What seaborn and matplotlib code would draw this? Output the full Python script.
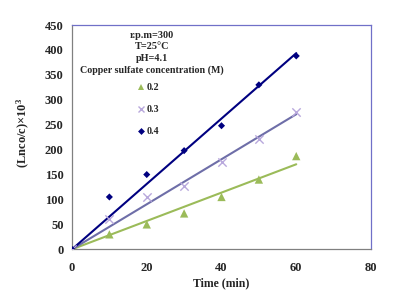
import numpy as np
import pandas as pd
import matplotlib
matplotlib.use("Agg")
import matplotlib.pyplot as plt
import seaborn as sns

# time (min) and (Ln co/c)x10^3 for each copper sulfate concentration
time_min = [0, 10, 20, 30, 40, 50, 60]
conc_02 = [0, 30, 50, 72, 105, 140, 187]
conc_03 = [0, 60, 105, 127, 175, 222, 275]
conc_04 = [0, 105, 150, 198, 248, 330, 388]
labels = ["0.2", "0.3", "0.4"]

sns.set_style("white")
plt.rcParams['font.family'] = ['Liberation Serif', 'DejaVu Serif']
plt.rcParams['font.weight'] = 'bold'
plt.rcParams['mathtext.fontset'] = 'custom'
plt.rcParams['mathtext.rm'] = 'Liberation Serif:bold'
plt.rcParams['mathtext.default'] = 'rm'

fig = plt.figure(figsize=(4, 3), dpi=100)
ax = fig.add_axes([0.18, 0.169, 0.7475, 0.7475])

series = {"0.2": conc_02, "0.3": conc_03, "0.4": conc_04}
line_col = {"0.2": "#9BBB59", "0.3": "#6E6EA8", "0.4": "#000080"}
mark_col = {"0.2": "#9BBB59", "0.3": "#B8A8DC", "0.4": "#000080"}
mark = {"0.2": "^", "0.3": "x", "0.4": "D"}
msize = {"0.2": 36, "0.3": 36, "0.4": 13}

t = np.array(time_min, dtype=float)
for lab in labels:
    y = np.array(series[lab], dtype=float)
    # linear fit forced through origin
    k = (t * y).sum() / (t * t).sum()
    fit = pd.DataFrame({"x": [0, 60], "y": [0, k * 60]})
    sns.lineplot(data=fit, x="x", y="y", color=line_col[lab], lw=1.5, ax=ax)
    df = pd.DataFrame({"x": t, "y": y})
    if mark[lab] == "x":
        sns.scatterplot(data=df, x="x", y="y", marker="x", color=mark_col[lab],
                        s=msize[lab], linewidth=1, ax=ax, zorder=3)
    else:
        sns.scatterplot(data=df, x="x", y="y", marker=mark[lab], color=mark_col[lab],
                        s=msize[lab], edgecolor="none", ax=ax, zorder=3)

ax.set_xlim(0, 80)
ax.set_ylim(0, 450)
ax.set_xticks([0, 20, 40, 60, 80])
ax.set_yticks(range(0, 451, 50))
ax.tick_params(axis="both", labelsize=9, direction="out", length=3,
               width=0.8, color="#808080", pad=3)
ax.tick_params(axis="x", pad=6)
for lbl in ax.get_xticklabels() + ax.get_yticklabels():
    lbl.set_fontweight("bold")
ax.set_xlabel("Time (min)", fontsize=8.5, fontweight="bold")
ax.set_ylabel("(Lnco/c)×10$^{3}$", fontsize=9, fontweight="bold")
ax.xaxis.set_label_coords(0.5, -0.125)
ax.yaxis.set_label_coords(-0.135, 0.52)

for side in ["left", "bottom"]:
    ax.spines[side].set_color("#808080")
    ax.spines[side].set_linewidth(0.9)
for side in ["top", "right"]:
    ax.spines[side].set_color("#7070C8")
    ax.spines[side].set_linewidth(0.9)

# conditions text
fs = 7.4
for i, txt in enumerate(["r.p.m=300", "T=25°C", "pH=4.1"]):
    fig.text(152 / 400, 1 - (35 + 11.7 * i) / 300, txt, ha="center", va="center",
             fontsize=fs, fontweight="bold")
fig.text(152 / 400, 1 - 70 / 300, "Copper sulfate concentration (M)", ha="center",
         va="center", fontsize=7.2, fontweight="bold")

# legend-like entries
for i, lab in enumerate(labels):
    yy = 1 - (87 + 22 * i) / 300
    if mark[lab] == "x":
        fig.lines.append(plt.Line2D([141 / 400], [yy], marker="x", color=mark_col[lab],
                                    markersize=5, mew=1, transform=fig.transFigure))
    else:
        fig.lines.append(plt.Line2D([141 / 400], [yy], marker=mark[lab], color=mark_col[lab],
                                    markersize=5 if lab == "0.2" else 3.5, mew=0,
                                    transform=fig.transFigure))
    fig.text(147 / 400, yy, lab, ha="left", va="center", fontsize=7.2, fontweight="bold")

fig.savefig("out.png", dpi=100)
